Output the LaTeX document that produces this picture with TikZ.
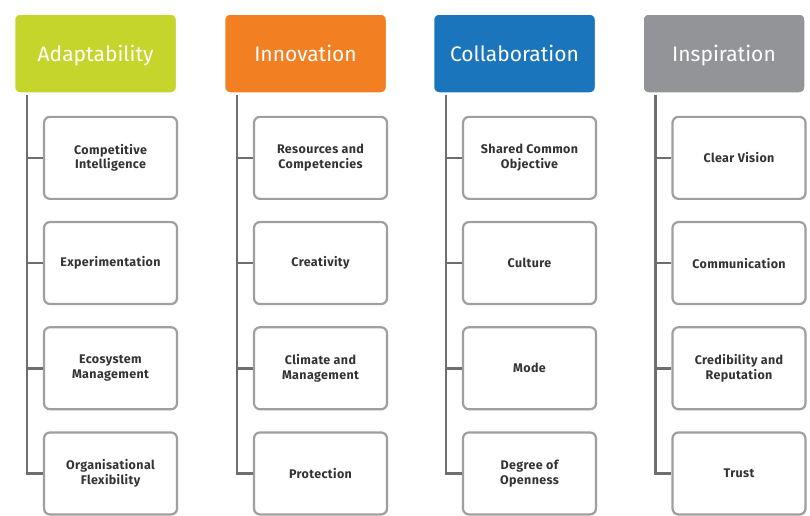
\documentclass[tikz,border=0pt]{standalone}
\usepackage{fontspec}
\setmainfont{Fira Sans}
\usetikzlibrary{positioning,shadows}

\definecolor{lime}{HTML}{C5D52B}
\definecolor{tangerine}{HTML}{F28023}
\definecolor{ocean}{HTML}{1B75BC}
\definecolor{slate}{HTML}{929497}
\definecolor{wire}{HTML}{6D6E71}
\definecolor{ink}{HTML}{333333}

\tikzset{
  pillar/.style={rectangle, rounded corners=6pt, draw=white, line width=2.5pt,
                 minimum width=163pt, minimum height=80pt, text=white,
                 text depth=1pt, font=\fontsize{21}{24}\selectfont,
                 drop shadow={opacity=0.25, shadow xshift=0pt, shadow yshift=-1pt}},
  item/.style={rectangle, rounded corners=6pt, draw=gray!75, line width=2.2pt,
               fill=white, minimum width=133pt, minimum height=82pt,
               align=center, text=ink,
               font=\bfseries\fontsize{12.5}{14.5}\selectfont\addfontfeature{LetterSpace=3},
               drop shadow={opacity=0.15, shadow xshift=1pt, shadow yshift=-1pt}},
  branch/.style={wire, line width=2.5pt}
}

\begin{document}
\begin{tikzpicture}[x=1pt, y=-1pt]

\useasboundingbox (0, 0) rectangle (810, 515);

% draw the adaptability column
\node[pillar, fill=lime] (adapt) at (95.5, 53.5) {Adaptability};
\node[item, below=21pt of adapt, xshift=15pt] (adapt1) {Competitive\\Intelligence};
\node[item, below=21pt of adapt1] (adapt2) {Experimentation};
\node[item, below=21pt of adapt2] (adapt3) {Ecosystem\\Management};
\node[item, below=21pt of adapt3] (adapt4) {Organisational\\Flexibility};
\coordinate (adapt-top) at ([xshift=14pt]adapt.south west);
\draw[branch] (adapt-top) |- (adapt4.west);
\draw[branch] (adapt1.west) -- (adapt1.west -| adapt-top);
\draw[branch] (adapt2.west) -- (adapt2.west -| adapt-top);
\draw[branch] (adapt3.west) -- (adapt3.west -| adapt-top);

% draw the innovation column
\node[pillar, fill=tangerine] (innov) at (305.5, 53.5) {Innovation};
\node[item, below=21pt of innov, xshift=15pt] (innov1) {Resources and\\Competencies};
\node[item, below=21pt of innov1] (innov2) {Creativity};
\node[item, below=21pt of innov2] (innov3) {Climate and\\Management};
\node[item, below=21pt of innov3] (innov4) {Protection};
\coordinate (innov-top) at ([xshift=14pt]innov.south west);
\draw[branch] (innov-top) |- (innov4.west);
\draw[branch] (innov1.west) -- (innov1.west -| innov-top);
\draw[branch] (innov2.west) -- (innov2.west -| innov-top);
\draw[branch] (innov3.west) -- (innov3.west -| innov-top);

% draw the collaboration column
\node[pillar, fill=ocean] (collab) at (514.5, 53.5) {Collaboration};
\node[item, below=21pt of collab, xshift=15pt] (collab1) {Shared Common\\Objective};
\node[item, below=21pt of collab1] (collab2) {Culture};
\node[item, below=21pt of collab2] (collab3) {Mode};
\node[item, below=21pt of collab3] (collab4) {Degree of\\Openness};
\coordinate (collab-top) at ([xshift=14pt]collab.south west);
\draw[branch] (collab-top) |- (collab4.west);
\draw[branch] (collab1.west) -- (collab1.west -| collab-top);
\draw[branch] (collab2.west) -- (collab2.west -| collab-top);
\draw[branch] (collab3.west) -- (collab3.west -| collab-top);

% draw the inspiration column
\node[pillar, fill=slate] (inspir) at (724, 53.5) {Inspiration};
\node[item, below=21pt of inspir, xshift=15pt] (inspir1) {Clear Vision};
\node[item, below=21pt of inspir1] (inspir2) {Communication};
\node[item, below=21pt of inspir2] (inspir3) {Credibility and\\Reputation};
\node[item, below=21pt of inspir3] (inspir4) {Trust};
\coordinate (inspir-top) at ([xshift=14pt]inspir.south west);
\draw[branch] (inspir-top) |- (inspir4.west);
\draw[branch] (inspir1.west) -- (inspir1.west -| inspir-top);
\draw[branch] (inspir2.west) -- (inspir2.west -| inspir-top);
\draw[branch] (inspir3.west) -- (inspir3.west -| inspir-top);

\end{tikzpicture}
\end{document}
